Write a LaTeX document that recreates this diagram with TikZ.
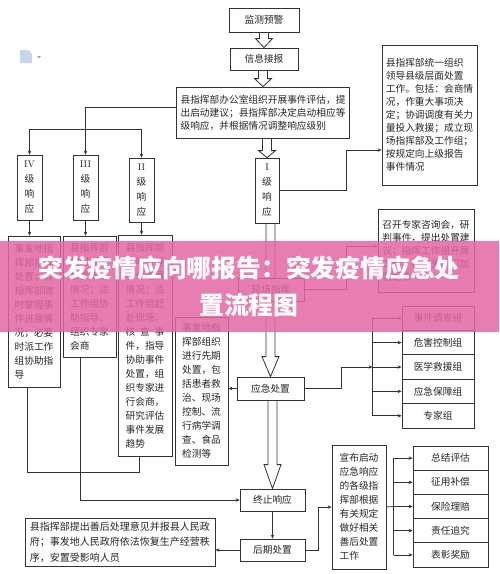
\documentclass[tikz,border=0pt]{standalone}
\usepackage{fontspec}
\newfontfamily\cjk{Noto Sans CJK SC}
\usetikzlibrary{arrows.meta,calc}

\tikzset{
  box/.style={draw=black!80, line width=0.8pt, fill=white, inner sep=0pt, text=black!85,
    font=\cjk\fontsize{9.7}{13}\selectfont},
  col/.style={box, align=left, font=\cjk\fontsize{9.7}{14}\selectfont},
  lvl/.style={box, align=center, minimum width=25pt, minimum height=65pt,
    font=\cjk\fontsize{9.7}{15}\selectfont},
  grp/.style={box, minimum width=72pt, minimum height=24.4pt},
  fin/.style={box, minimum width=75pt, minimum height=24.2pt},
  link/.style={draw=black!80, line width=0.8pt},
  arr/.style={link, -{Stealth[length=4pt,width=3.5pt]}},
  arrs/.style={link, {Stealth[length=4pt,width=3.5pt]}-{Stealth[length=4pt,width=3.5pt]}},
}

% hollow block arrow between two boxes
\newcommand\fatarrow[3][9]{%
  \path (#3.north) coordinate (fa-tip) (#2.south -| #3.north) coordinate (fa-top);
  \draw[link] ($(fa-top)+(-4.5,0)$) -- ($(fa-tip)+(-4.5,-#1)$) -- ($(fa-tip)+(-8.5,-#1)$)
    -- (fa-tip) -- ($(fa-tip)+(8.5,-#1)$) -- ($(fa-tip)+(4.5,-#1)$) -- ($(fa-top)+(4.5,0)$);}

\begin{document}
\begin{tikzpicture}[x=1pt,y=-1pt]
\definecolor{pinkband}{rgb}{0.89,0.40,0.64}
\definecolor{iconblue}{rgb}{0.78,0.84,0.92}
\useasboundingbox (0,0) rectangle (499,574);

% little document icon
\fill[iconblue] (20,50) -- (28.5,50) -- (32,53.5) -- (32,63) -- (20,63) -- cycle;
\fill[black!35] (37,56) -- (41,56) -- (39,58.5) -- cycle;

% top chain
\node[box, minimum width=70pt, minimum height=24pt] (jcyj) at (264,20) {监测预警};
\node[box, minimum width=68pt, minimum height=22pt] (xxjb) at (264,59) {信息接报};
\node[box, align=left, minimum width=173pt, minimum height=51pt] (pg) at (263,112.5)
  {县指挥部办公室组织开展事件评估，提\\出启动建议；县指挥部决定启动相应等\\级响应，并根据情况调整响应级别};
\node[box, align=left, minimum width=95pt, minimum height=140pt] (zhb) at (429.5,115)
  {县指挥部统一组织\\领导县级层面处置\\工作。包括：会商情\\况，作重大事项决\\定；协调调度有关力\\量投入救援；成立现\\场指挥部及工作组；\\按规定向上级报告\\事件情况};

% response levels
\node[lvl] (iv) at (29.5,187.5) {{\rmfamily IV}\\级\\响\\应};
\node[lvl] (iii) at (85.5,187.5) {{\rmfamily III}\\级\\响\\应};
\node[lvl, minimum height=64pt] (ii) at (141.5,190) {{\rmfamily II}\\级\\响\\应};
\node[lvl, minimum width=24pt] (i) at (267,190.5) {{\rmfamily I}\\级\\响\\应};

\node[col, minimum width=52pt, minimum height=151pt] (ivd) at (34,311.5)
  {事发地指\\挥部指挥\\处置；县\\指挥部随\\时掌握事\\件进展情\\况；必要\\时派工作\\组协助指\\导};
\node[col, minimum width=53pt, minimum height=121pt] (iiid) at (89.5,296.5)
  {县指挥部\\随时掌握\\事件进展\\情况；派\\工作组协\\助指导、\\组织专家\\会商};
\node[col, minimum width=54pt, minimum height=221pt] (iid) at (145,345.5)
  {县指挥部\\随时掌握\\事件进展\\情况；派\\工作组赶\\赴现场，\\核\hspace{0.5em}查\hspace{0.5em}事\\件，指导\\协助事件\\处置，组\\织专家进\\行会商，\\研究评估\\事件发展\\趋势};
\node[col, minimum width=53pt, minimum height=148pt] (sfd) at (201.5,391)
  {事发地指\\挥部组织\\进行先期\\处置，包\\括患者救\\治、现场\\控制、流\\行病学调\\查、食品\\检测等};

% emergency handling
\node[box, align=left, minimum width=96pt, minimum height=83pt] (zjzx) at (426,250.5)
  {召开专家咨询会，研\\判事件，提出处置建\\议；指挥工作组开展\\工作；各有关部门加\\强配合};
\node[box, minimum width=67pt, minimum height=23pt] (yjcz) at (270.5,388.5) {应急处置};
\node[grp] (g1) at (438,318.2) {事件调查组};
\node[grp] (g2) at (438,342.6) {危害控制组};
\node[grp] (g3) at (438,367) {医学救援组};
\node[grp] (g4) at (438,391.4) {应急保障组};
\node[grp] (g5) at (438,415.8) {专家组};

% end and aftermath
\node[box, minimum width=65pt, minimum height=22pt] (zzxy) at (272.5,500) {终止响应};
\node[box, minimum width=65pt, minimum height=22pt] (hqcz) at (272.5,550) {后期处置};
\node[col, minimum width=190pt, minimum height=48pt, font=\cjk\fontsize{10}{15.5}\selectfont] (shcl) at (120,542)
  {县指挥部提出善后处理意见并报县人民政\\府；事发地人民政府依法恢复生产经营秩\\序，安置受影响人员};
\node[col, minimum width=54pt, minimum height=124pt] (xbqd) at (359,507)
  {宣布启动\\应急响应\\的各级指\\挥部根据\\有关规定\\做好相关\\善后处置\\工作};
\node[fin] (h1) at (450.5,458.1) {总结评估};
\node[fin] (h2) at (450.5,482.3) {征用补偿};
\node[fin] (h3) at (450.5,506.5) {保险理赔};
\node[fin] (h4) at (450.5,530.7) {责任追究};
\node[fin] (h5) at (450.5,554.9) {表彰奖励};

% block arrows down the middle
\fatarrow{jcyj}{xxjb}
\fatarrow[8]{xxjb}{pg}
\fatarrow[7]{pg}{i}
\fatarrow[20]{i}{yjcz}
\fatarrow[24]{yjcz}{zzxy}

\node[box, minimum width=66pt, minimum height=23pt] (xczh) at (271,289.5) {现场指挥};

% connectors
\draw[arr] ([yshift=5.5pt]pg.west) -| (iii.north);
\draw[arrs] (iv.north) -- ++(0,-25) -| (ii.north);
\draw[arr] (i.east) -- ++(67,0) |- ([yshift=-35pt]zhb.west);
\draw[arr] (xczh.east) -- ++(42,0) |- ([yshift=4.5pt]zjzx.west);

\draw[arr] (iv.south) -- (iv.south |- ivd.north);
\draw[arr] (iii.south) -- (iii.south |- iiid.north);
\draw[arr] (ii.south) -- (ii.south |- iid.north);

\draw[arr] (yjcz.west) -- (yjcz.west -| sfd.east);
\draw[arr] (yjcz.east) -- ++(36.5,0) |- ([xshift=-29pt]g3.west);
\draw[link] ([xshift=-29pt]g1.west) -- ([xshift=-29pt]g5.west);
\draw[arr] ([xshift=-29pt]g1.west) -- (g1.west);
\draw[arr] ([xshift=-29pt]g2.west) -- (g2.west);
\draw[arr] ([xshift=-29pt]g3.west) -- (g3.west);
\draw[arr] ([xshift=-29pt]g4.west) -- (g4.west);
\draw[arr] ([xshift=-29pt]g5.west) -- (g5.west);

\draw[link] ([xshift=-7pt]ivd.south) -- ++(0,85) -| ([xshift=-6pt]iid.south);
\draw[arr] ([xshift=-9.5pt]iiid.south) |- (zzxy.west);
\draw[arr] (zzxy.south) -- (hqcz.north);
\draw[arr] (hqcz.west) -- (hqcz.west -| shcl.east);
\draw[arr] (hqcz.east) -- ++(13,0) |- (xbqd.west);

\draw[link] (xbqd.east) -- ([xshift=-19pt]h3.west);
\draw[link] ([xshift=-19pt]h1.west) -- ([xshift=-19pt]h5.west);
\draw[arr] ([xshift=-19pt]h1.west) -- (h1.west);
\draw[arr] ([xshift=-19pt]h2.west) -- (h2.west);
\draw[arr] ([xshift=-19pt]h3.west) -- (h3.west);
\draw[arr] ([xshift=-19pt]h4.west) -- (h4.west);
\draw[arr] ([xshift=-19pt]h5.west) -- (h5.west);

% title band laid over the chart
\fill[pinkband, opacity=0.85] (0,241) rectangle (499,332);
\node[text=white, align=center, font=\cjk\bfseries\fontsize{24.8}{37}\selectfont] (title) at (249,286.5)
  {突发疫情应向哪报告：突发疫情应急处\\置流程图};
\end{tikzpicture}
\end{document}
